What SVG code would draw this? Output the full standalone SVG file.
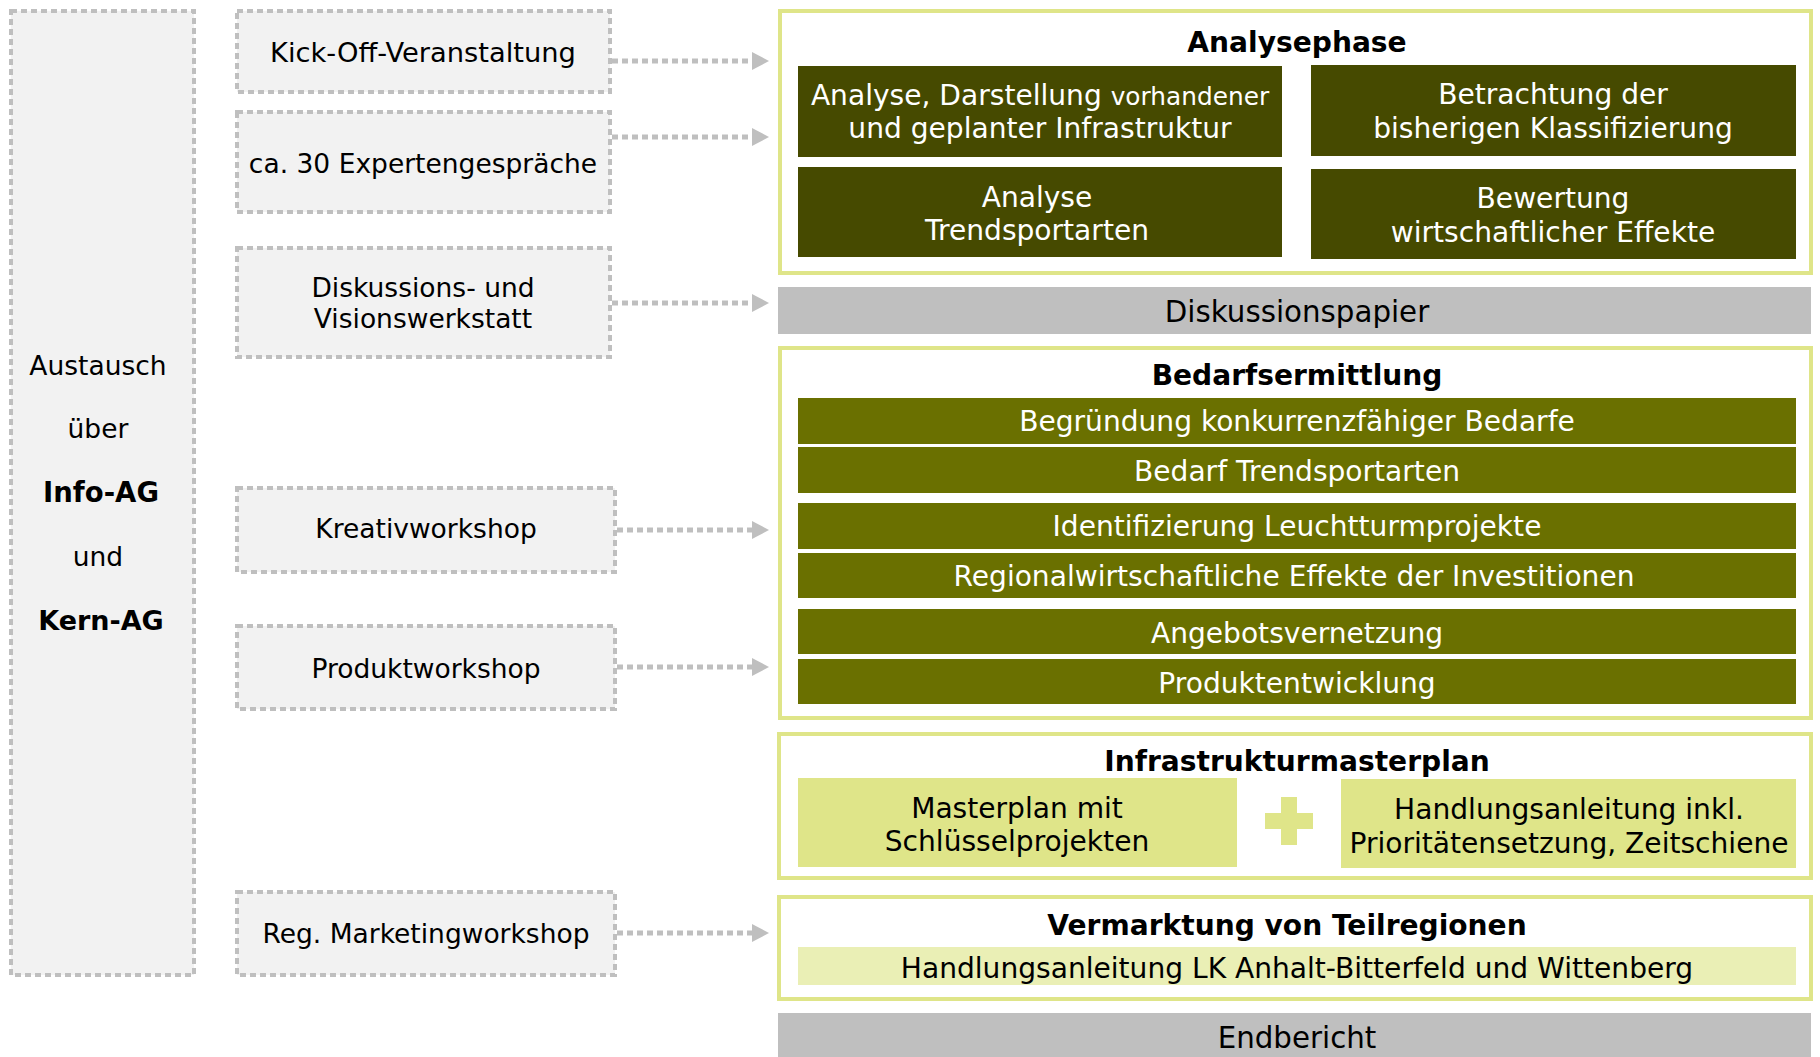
<svg xmlns="http://www.w3.org/2000/svg" width="1820" height="1057" viewBox="0 0 1820 1057">
<defs>
<style>
text{font-family:"DejaVu Sans","Verdana",sans-serif;font-size:26.5px;text-anchor:middle}
.r{font-size:28.1px}
.g{font-size:29.3px}
.b{font-weight:bold}
.w{fill:#ffffff}
.k{fill:#000000}
.side{fill:#f2f2f2;stroke:#bfbfbf;stroke-width:4;stroke-dasharray:6 4}
.frame{fill:#ffffff;stroke:#dfe589;stroke-width:4}
.dark{fill:#464a00}
.olive{fill:#6a7000}
.light{fill:#dfe589}
.pale{fill:#eaefb5}
.gray{fill:#bfbfbf}
.con{fill:none;stroke:#bfbfbf;stroke-width:5;stroke-dasharray:6 4}
</style>
<marker id="arr" markerWidth="17" markerHeight="18" refX="0" refY="9" orient="auto" markerUnits="userSpaceOnUse">
<path d="M0,0 L17,9 L0,18 Z" fill="#bfbfbf"/>
</marker>
</defs>

<g id="austausch">
<rect class="side" x="11" y="11" width="183" height="964"/>
<text x="98" y="375">Austausch</text>
<text x="98" y="438">über</text>
<text class="b" x="101" y="502" style="font-size:27.5px">Info-AG</text>
<text x="98" y="566">und</text>
<text class="b" x="101" y="630" style="font-size:27px">Kern-AG</text>
</g>

<g id="kickoff">
<rect class="side" x="237" y="11" width="373" height="81"/>
<text x="423" y="62" style="font-size:27.3px">Kick-Off-Veranstaltung</text>
</g>
<g id="experten">
<rect class="side" x="237" y="112" width="373" height="100"/>
<text x="423" y="173">ca. 30 Expertengespräche</text>
</g>
<g id="werkstatt">
<rect class="side" x="237" y="248" width="373" height="109"/>
<text x="423" y="297">Diskussions- und</text>
<text x="423" y="328">Visionswerkstatt</text>
</g>
<g id="kreativ">
<rect class="side" x="237" y="488" width="378" height="84"/>
<text x="426" y="538">Kreativworkshop</text>
</g>
<g id="produkt">
<rect class="side" x="237" y="626" width="378" height="83"/>
<text x="426" y="678">Produktworkshop</text>
</g>
<g id="marketing">
<rect class="side" x="237" y="892" width="378" height="83"/>
<text x="426" y="943">Reg. Marketingworkshop</text>
</g>

<g id="connectors">
<path class="con" d="M612,61 H752" marker-end="url(#arr)"/>
<path class="con" d="M612,137 H752" marker-end="url(#arr)"/>
<path class="con" d="M612,303 H752" marker-end="url(#arr)"/>
<path class="con" d="M617,530 H752" marker-end="url(#arr)"/>
<path class="con" d="M617,667 H752" marker-end="url(#arr)"/>
<path class="con" d="M617,933 H752" marker-end="url(#arr)"/>
</g>

<g id="analysephase">
<rect class="frame" x="780" y="11" width="1031" height="262"/>
<text class="r b k" x="1297" y="52">Analysephase</text>
<rect class="dark" x="798" y="66" width="484" height="91"/>
<text class="r w" x="1040" y="105">Analyse, Darstellung <tspan style="font-size:24.8px">vorhandener</tspan></text>
<text class="r w" x="1040" y="138">und geplanter Infrastruktur</text>
<rect class="dark" x="1311" y="65" width="485" height="91"/>
<text class="r w" x="1553" y="104">Betrachtung der</text>
<text class="r w" x="1553" y="138">bisherigen Klassifizierung</text>
<rect class="dark" x="798" y="167" width="484" height="90"/>
<text class="r w" x="1037" y="207">Analyse</text>
<text class="r w" x="1037" y="240">Trendsportarten</text>
<rect class="dark" x="1311" y="169" width="485" height="90"/>
<text class="r w" x="1553" y="208">Bewertung</text>
<text class="r w" x="1553" y="242">wirtschaftlicher Effekte</text>
</g>

<g id="diskussionspapier">
<rect class="gray" x="778" y="287" width="1033" height="47"/>
<text class="g k" x="1297" y="322">Diskussionspapier</text>
</g>

<g id="bedarfsermittlung">
<rect class="frame" x="780" y="348" width="1031" height="370"/>
<text class="r b k" x="1297" y="385">Bedarfsermittlung</text>
<rect class="olive" x="798" y="398" width="998" height="46"/>
<text class="r w" x="1297" y="431">Begründung konkurrenzfähiger Bedarfe</text>
<rect class="olive" x="798" y="447" width="998" height="46"/>
<text class="r w" x="1297" y="481">Bedarf Trendsportarten</text>
<rect class="olive" x="798" y="503" width="998" height="46"/>
<text class="r w" x="1297" y="536">Identifizierung Leuchtturmprojekte</text>
<rect class="olive" x="798" y="553" width="998" height="45"/>
<text class="r w" x="1294" y="586">Regionalwirtschaftliche Effekte der Investitionen</text>
<rect class="olive" x="798" y="609" width="998" height="45"/>
<text class="r w" x="1297" y="643">Angebotsvernetzung</text>
<rect class="olive" x="798" y="659" width="998" height="45"/>
<text class="r w" x="1297" y="693">Produktentwicklung</text>
</g>

<g id="infrastrukturmasterplan">
<rect class="frame" x="779" y="734" width="1032" height="144"/>
<text class="r b k" x="1297" y="771">Infrastrukturmasterplan</text>
<rect class="light" x="798" y="778" width="439" height="89"/>
<text class="r k" x="1017" y="818">Masterplan mit</text>
<text class="r k" x="1017" y="851">Schlüsselprojekten</text>
<path class="light" d="M1281,797 H1297 V813 H1313 V829 H1297 V845 H1281 V829 H1265 V813 H1281 Z"/>
<rect class="light" x="1341" y="779" width="455" height="89"/>
<text class="r k" x="1569" y="819">Handlungsanleitung inkl.</text>
<text class="r k" x="1569" y="853">Prioritätensetzung, Zeitschiene</text>
</g>

<g id="vermarktung">
<rect class="frame" x="779" y="897" width="1032" height="102"/>
<text class="r b k" x="1287" y="935">Vermarktung von Teilregionen</text>
<rect class="pale" x="798" y="947" width="998" height="38"/>
<text class="r k" x="1297" y="978">Handlungsanleitung LK Anhalt-Bitterfeld und Wittenberg</text>
</g>

<g id="endbericht">
<rect class="gray" x="778" y="1013" width="1033" height="44"/>
<text class="g k" x="1297" y="1048">Endbericht</text>
</g>
</svg>
